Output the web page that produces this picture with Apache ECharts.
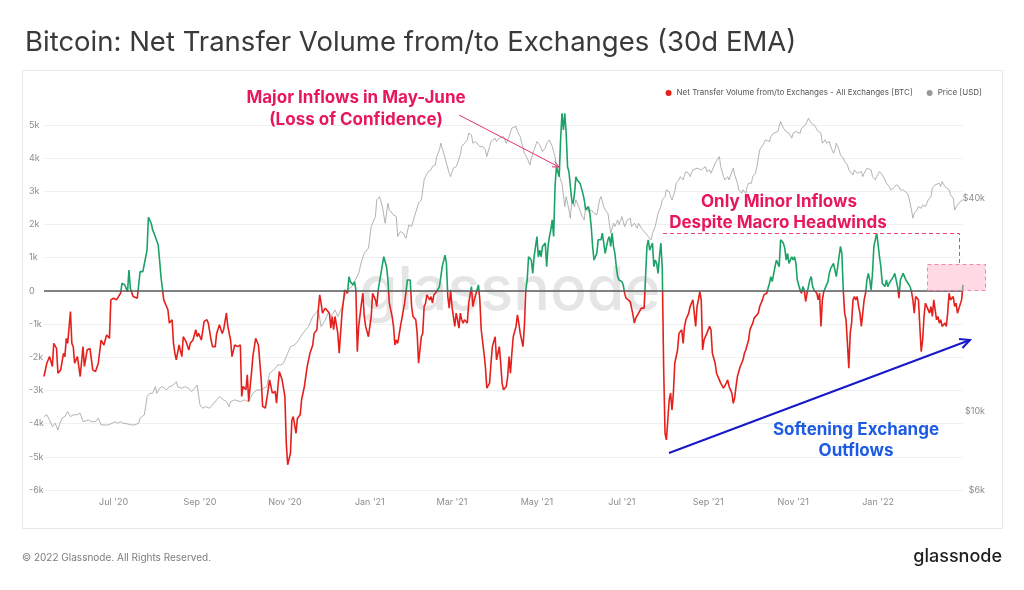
<!DOCTYPE html>
<html>
<head>
<meta charset="utf-8">
<title>Bitcoin: Net Transfer Volume from/to Exchanges (30d EMA)</title>
<script src="https://cdn.jsdelivr.net/npm/echarts@6/dist/echarts.min.js"></script>
<style>
html, body { margin: 0; padding: 0; background: #fff; }
#main { width: 1024px; height: 590px; }
</style>
</head>
<body>
<div id="main"></div>
<script>
// days counted from 2020-05-12
var flowDays = [0,2,4,6,7,9,10,12,14,15,16,17,19,20,21,22,24,26,28,29,31,33,35,37,39,41,43,45,47,48,50,52,55,56,58,60,61,62,64,67,68,69,71,72,74,75,77,78,79,80,82,83,84,86,88,89,90,92,93,94,95,97,99,100,102,104,105,107,109,110,111,113,115,117,118,120,121,123,124,126,128,129,131,132,134,
135,137,139,141,142,143,145,146,147,149,150,152,154,156,157,159,161,162,164,166,167,168,169,171,172,173,174,175,177,178,179,181,182,184,185,187,189,191,193,194,196,197,198,199,200,202,203,205,206,207,208,209,211,212,213,214,216,217,218,219,220,221,222,223,224,225,226,228,229,230,231,233,234,235,236,238,239,240,241,242,244,245,246,247,248,250,251,252,253,254,256,257,259,260,261,263,264,265,
267,268,269,271,272,273,274,275,277,278,279,280,281,282,284,285,286,288,289,290,291,292,293,295,296,297,298,299,300,301,302,304,305,306,307,308,309,311,312,313,314,316,317,318,320,321,322,324,325,327,328,329,330,332,333,334,335,336,337,339,340,341,342,344,345,346,347,348,350,351,352,354,355,356,357,358,360,361,362,363,364,365,366,367,368,370,371,372,373,374,375,376,377,378,379,380,381,382,383,385,386,387,388,389,391,392,393,394,395,397,
398,400,401,403,404,405,406,407,408,409,410,411,412,413,415,416,417,418,419,421,422,423,424,425,427,428,429,430,431,432,433,434,435,437,438,439,440,441,442,443,444,445,446,447,448,449,450,451,452,453,455,456,458,459,460,461,463,464,466,467,468,469,470,471,472,473,474,476,477,478,479,480,482,483,484,485,486,488,489,490,491,492,494,495,496,497,498,500,501,502,503,504,506,507,508,509,510,511,513,514,515,516,517,519,520,521,522,523,525,526,527,528,529,531,
532,533,534,535,537,538,539,540,541,543,544,545,546,547,548,549,550,551,552,553,555,556,557,558,559,560,561,563,564,565,567,568,569,570,571,572,573,574,575,576,577,578,579,580,581,582,583,584,585,586,587,588,589,590,591,592,593,594,595,596,597,598,599,600,601,602,604,605,606,607,608,610,611,612,613,614,615,616,617,618,619,620,622,623,624,625,626,628,629,630,631,632,633,635,636,637,638,639,641,642,643,644,645,647,648,649,650,651,653,654,655,656,657,659,660];
var flowValues = [-2580,-2180,-1980,-2280,-1580,-1730,-2480,-2380,-1880,-1980,-1430,-1580,-620,-1580,-1680,-2180,-1980,-2580,-1680,-2280,-1780,-1730,-2380,-2430,-2180,-1480,-1630,-1330,-1430,-270,-220,-270,-70,230,180,-20,630,80,-170,-220,-270,580,580,530,1230,2220,2040,1840,1740,1740,1390,930,430,-270,-470,-570,-970,-870,-1580,-1880,-2080,-1630,-1980,-1380,-1530,-1780,-1580,-1480,-1170,-1380,-1280,-1480,-920,-870,-970,-1480,-1680,-1680,-1280,-1020,-1280,-1170,-670,-1070,-1480,
-1980,-1630,-1680,-1630,-3180,-2880,-2980,-2530,-3330,-2480,-1980,-1430,-1630,-2680,-3480,-3530,-2980,-2680,-3080,-3030,-3380,-2880,-2430,-2680,-2630,-3180,-4590,-5240,-4890,-3890,-3790,-4290,-3840,-3730,-3280,-2880,-2280,-1880,-1630,-1280,-1170,-570,-120,-370,-670,-520,-570,-670,-1120,-770,-1170,-770,-1280,-1880,-1280,-670,30,80,-70,430,280,330,180,280,30,-1830,-1070,-370,-70,-770,-1070,-1380,-1430,-770,-70,-270,-470,30,-20,530,1030,980,730,330,-370,-770,-1070,-1630,-1480,-1580,-1070,-1120,-370,-420,330,330,-470,-770,
-870,-1280,-2180,-1380,-1280,-470,-370,-120,-270,-170,-370,-120,-170,-20,130,430,730,1080,830,-170,-520,30,-470,-1070,-670,-870,-1120,-670,-870,-970,-870,-970,-370,-370,130,-470,-270,30,180,-270,-1170,-1880,-2280,-2930,-2780,-2180,-1680,-1380,-2080,-1680,-2180,-2780,-2980,-2880,-2580,-1980,-2480,-1880,-1380,-1070,-720,-970,-1280,-1680,-1070,30,330,1030,930,530,1030,1640,1030,1230,1030,1340,1440,730,1340,1640,1840,2140,1640,3140,3740,3440,4550,5350,4850,5350,4750,3740,3590,3640,2740,2630,2940,3440,3340,3240,3240,2940,2740,2440,2540,2340,1940,1340,930,1130,
1540,1540,1740,1130,1340,1540,1640,1340,1740,1340,1130,730,430,330,280,180,-70,-220,-270,-320,-520,-720,-970,-820,-670,-670,-520,-520,-520,-520,1340,1540,1230,1440,730,930,830,530,1030,1440,730,-2280,-4290,-4490,-3890,-3280,-3080,-3590,-3080,-2180,-1780,-1280,-1170,-1580,-1070,-870,-670,-470,-270,-270,-1070,-470,-270,-20,-270,-1780,-1480,-1280,-1280,-1070,-1170,-1880,-2180,-2480,-2480,-2680,-2780,-2930,-2980,-2780,-2680,-2880,-3080,-3390,-3230,-2880,-2580,-2280,-2180,-2080,-1880,-1780,-1480,-1170,-1070,-970,-820,-770,-670,-470,-470,-270,-120,-70,-20,230,430,280,730,930,830,730,1540,1440,
1290,930,1130,830,1030,930,1030,830,330,30,-70,130,30,-320,-70,130,330,430,130,30,-70,-270,-70,-1070,-270,-20,30,280,530,680,830,630,430,730,1030,1340,1130,30,-670,-870,-1580,-2330,-1280,-970,-270,-170,-270,-170,-470,-670,-1070,-670,-270,-70,330,530,330,30,530,1340,1540,1740,1410,1030,730,230,130,330,130,230,180,430,530,480,130,-220,330,280,530,430,330,380,130,-20,-270,-670,-170,-270,-1070,-1830,-1480,-770,-370,-570,-670,-470,-770,-270,-870,-770,-970,-870,-1070,-970,-1070,-670,-70,-270,-170,-470,-370,-670,-720,-270,180];

var priceDays = [0,2,4,6,8,10,11,13,15,17,19,21,23,26,28,29,32,34,37,39,41,44,46,49,51,53,55,57,60,63,65,68,69,72,73,74,76,78,80,81,83,85,88,90,92,95,96,99,101,104,106,108,110,112,114,116,119,121,124,126,129,131,133,
134,137,141,144,147,150,153,156,160,162,165,168,170,172,175,177,180,183,185,188,190,193,195,197,199,202,204,206,209,211,214,216,218,221,223,226,228,230,233,235,238,239,241,243,245,247,248,251,253,254,256,258,260,262,264,266,
269,271,273,274,276,278,279,281,282,284,285,287,288,289,291,292,294,296,297,299,300,302,304,305,307,308,310,311,313,315,317,318,320,321,322,324,325,327,328,330,332,333,334,336,337,339,340,342,344,345,347,349,350,352,354,356,357,358,360,361,363,365,367,368,369,371,372,374,375,377,378,379,381,382,384,386,388,389,391,393,395,397,
399,400,402,403,405,406,407,409,410,412,413,415,417,419,421,422,424,426,427,429,431,433,434,436,437,439,440,441,443,444,446,447,449,450,451,453,454,456,457,459,460,461,463,464,466,467,469,470,472,473,475,476,478,479,481,482,483,485,486,488,489,491,492,494,495,496,498,499,501,502,504,505,506,508,509,511,512,514,515,517,518,519,521,522,524,525,527,528,529,531,
533,534,535,537,538,540,541,543,544,545,547,548,549,551,552,554,555,556,558,559,561,562,564,565,567,568,569,571,572,574,575,577,578,579,581,582,584,585,587,588,589,591,592,594,595,597,598,600,601,602,604,605,607,608,610,611,612,614,615,617,618,620,621,622,623,624,625,627,628,630,631,633,634,635,637,638,640,641,643,644,645,647,648,650,651,653,654,656,657,658,660];
var priceValues = [9670,9780,9460,9060,9260,8860,9160,9570,9670,9990,9670,9780,9780,9880,9360,9460,9460,9360,9360,9570,9160,9160,9160,9260,9360,9260,9360,9260,9220,9160,9160,9260,9570,9780,10320,11010,11250,11250,11750,11250,11620,11750,11500,11750,11800,12140,11750,11620,11750,11620,11380,11620,11880,10440,10210,10320,10210,10440,10780,11010,10780,10660,10320,
10660,10780,10660,10780,10660,11250,11500,11500,11750,12810,13100,13530,13530,13680,14600,15240,15410,15920,16450,16990,17360,18530,18930,19350,17360,18130,18930,18530,19350,18530,19770,21100,22040,22520,23270,24560,26500,27970,28900,33270,35500,39570,40430,37890,34000,38720,37080,35900,35500,31180,32210,31860,30840,33630,33270,35500,
38720,39570,45070,46050,47580,48100,49160,49690,52460,54780,57210,53600,51900,51330,47060,46050,48630,49160,50230,53030,55980,57210,58460,61040,60390,57210,57830,57210,55980,55980,54780,52460,55980,57830,58460,59100,57830,59100,58460,59740,57210,58460,59740,63100,62400,63800,61700,59740,55380,53600,51900,49690,51900,54780,57830,56590,55980,54190,55380,57210,58460,55980,52460,49160,48100,45070,44100,37890,40430,37080,35120,39140,37890,39570,37890,35900,34740,37890,36670,37080,36280,35900,
39570,40430,37890,37080,36280,34000,31860,34000,33270,34740,33630,35500,33270,34740,35120,33270,34000,32910,34000,32910,32210,31520,31180,30510,31860,33270,34740,36280,37890,39570,40430,42230,41770,40430,39570,41770,44100,45070,46050,45070,46550,47580,47060,46050,48100,47580,48630,49160,48100,48100,49160,47580,48100,47060,49160,50230,50780,52460,49160,46050,45070,46050,45070,47580,48630,46550,44100,42230,41320,42230,41320,43160,44100,44100,46050,47060,49160,54780,55380,57210,58460,59100,57830,59740,61040,61700,61700,63800,65900,63100,
61700,61040,61040,59100,61040,61700,61700,61040,63100,63800,64500,65200,67300,65200,64500,63800,62400,63100,61040,57210,58460,57210,57830,55980,53600,54780,57210,54780,53030,51900,50780,49690,48100,47580,46550,48100,47060,46550,47580,46050,47060,48630,49160,48100,46050,45070,46050,47580,47580,46550,45070,44100,43160,42230,42690,42230,43630,43160,42230,42230,41770,41320,40430,38720,37080,35120,36280,37080,37890,37480,38300,37890,38720,39570,40430,42690,43630,43160,44100,43160,44580,43160,42690,42230,40870,40000,37080,38300,37890,39140,39570];

var monthTicks = ['2020-07-01','2020-09-01','2020-11-01','2021-01-01','2021-03-01','2021-05-01','2021-07-01','2021-09-01','2021-11-01','2022-01-01'];
var priceTicks = [6000, 10000, 40000];
var monthNames = ['Jan','Feb','Mar','Apr','May','Jun','Jul','Aug','Sep','Oct','Nov','Dec'];

var DAY = 86400000;
var startTime = Date.UTC(2020, 4, 12);
var FONT = 'Inter, "Noto Sans", sans-serif';

function toSeries(days, values) {
	var out = [];
	for (var i = 0; i < days.length; i++) {
		out.push([startTime + days[i] * DAY, values[i]]);
	}
	return out;
}

// line + open arrow head
function arrow(x1, y1, x2, y2, color, w, head) {
	var a = Math.atan2(y2 - y1, x2 - x1);
	var p1 = [x2 - head * Math.cos(a - 0.45), y2 - head * Math.sin(a - 0.45)];
	var p2 = [x2 - head * Math.cos(a + 0.45), y2 - head * Math.sin(a + 0.45)];
	return [{
		type: 'line', z: 20,
		shape: { x1: x1, y1: y1, x2: x2, y2: y2 },
		style: { stroke: color, lineWidth: w }
	}, {
		type: 'polyline', z: 20,
		shape: { points: [p1, [x2, y2], p2] },
		style: { stroke: color, lineWidth: w, fill: null }
	}];
}

function txt(x, y, s, size, color, weight, align) {
	return {
		type: 'text', x: x, y: y, z: 20,
		style: {
			text: s, fill: color, fontSize: size, fontWeight: weight || 'normal',
			fontFamily: FONT, align: align || 'center', verticalAlign: 'middle'
		}
	};
}

var myChart = echarts.init(document.getElementById('main'), null, { renderer: 'canvas' });

var pink = '#e8175d';
var graphics = [
	{ type: 'rect', z: 0, shape: { x: 22.5, y: 70.5, width: 980, height: 458 }, style: { fill: null, stroke: '#e8e8e8', lineWidth: 1 } },
	{ type: 'text', x: 510, y: 292, z: 1, style: { text: 'glassnode', fill: 'rgba(160,160,160,0.28)', fontSize: 61, fontWeight: 500, fontFamily: FONT, align: 'center', verticalAlign: 'middle' } },
	txt(356, 98, 'Major Inflows in May-June', 17, pink, 'bold'),
	txt(356, 120, '(Loss of Confidence)', 17, pink, 'bold'),
	txt(779, 202, 'Only Minor Inflows', 17, pink, 'bold'),
	txt(778, 223, 'Despite Macro Headwinds', 17, pink, 'bold'),
	txt(856, 430, 'Softening Exchange', 17, '#1d5be3', 'bold'),
	txt(856, 451, 'Outflows', 17, '#1d5be3', 'bold'),
	{ type: 'polyline', z: 20, shape: { points: [[663, 233.5], [959.5, 233.5], [959.5, 264]] }, style: { stroke: '#f0407a', lineWidth: 1, lineDash: [4, 3], fill: null } },
	{ type: 'rect', z: 20, shape: { x: 927.5, y: 264.5, width: 58, height: 26 }, style: { fill: 'rgba(255,170,196,0.45)', stroke: '#f08aaa', lineWidth: 1, lineDash: [4, 3] } },
	txt(22, 558, '\u00a9 2022 Glassnode. All Rights Reserved.', 10, '#7c7c7c', 'normal', 'left'),
	txt(1002, 557, 'glassnode', 18, '#1e1e1e', 500, 'right')
].concat(arrow(459, 115, 559, 167, '#e3336d', 1, 7))
 .concat(arrow(669, 453, 970, 340, '#1717cc', 2, 11));

var option = {
	animation: false,
	backgroundColor: '#fff',
	title: {
		text: 'Bitcoin: Net Transfer Volume from/to Exchanges (30d EMA)',
		left: 20, top: 24,
		textStyle: { fontFamily: FONT, fontSize: 27.5, fontWeight: 'normal', color: '#3a3a3a' }
	},
	legend: {
		right: 37, top: 84,
		icon: 'circle', itemWidth: 6, itemHeight: 6, itemGap: 14,
		textStyle: { fontFamily: FONT, fontSize: 8, color: '#555' },
		data: ['Net Transfer Volume from/to Exchanges - All Exchanges [BTC]', 'Price [USD]']
	},
	grid: { left: 44, right: 61, top: 125, bottom: 100 },
	// green above zero, red below (finite bounds so the gradient has stops)
	visualMap: {
		show: false, seriesIndex: 0, dimension: 1,
		pieces: [{ gt: 0, lte: 100000, color: '#1ba266' }, { gt: -100000, lte: 0, color: '#e5201c' }]
	},
	// value axis in ms so the 2-month ticks can be placed exactly
	xAxis: {
		type: 'value',
		min: startTime, max: startTime + 660 * DAY,
		axisLine: { show: false }, axisTick: { show: false }, splitLine: { show: false },
		axisLabel: {
			customValues: monthTicks.map(function (s) { return Date.parse(s + 'T00:00:00Z'); }),
			fontFamily: FONT, fontSize: 9, color: '#8c8c8c', margin: 8,
			formatter: function (v) {
				var d = new Date(v);
				return monthNames[d.getUTCMonth()] + " '" + String(d.getUTCFullYear()).slice(2);
			}
		}
	},
	yAxis: [{
		type: 'value', min: -6000, max: 5000, interval: 1000,
		axisLine: { show: false }, axisTick: { show: false },
		splitLine: { lineStyle: { color: '#efefef', width: 1 } },
		axisLabel: {
			align: 'left', margin: 15, fontFamily: FONT, fontSize: 9, color: '#8c8c8c', padding: [0, 0, 8, 0],
			formatter: function (v) { return v === 0 ? '0' : (v / 1000) + 'k'; }
		}
	}, {
		type: 'log', logBase: 10, min: 6000, max: 64400,
		axisLine: { show: false }, axisTick: { show: false }, splitLine: { show: false },
		axisLabel: {
			customValues: priceTicks,
			align: 'right', margin: 22, fontFamily: FONT, fontSize: 9, color: '#8c8c8c', padding: [0, 0, 8, 0],
			formatter: function (v) { return '$' + Math.round(v / 1000) + 'k'; }
		}
	}],
	series: [{
		name: 'Net Transfer Volume from/to Exchanges - All Exchanges [BTC]',
		type: 'line', yAxisIndex: 0, z: 4,
		showSymbol: false, clip: false,
		itemStyle: { color: '#e5201c' },
		lineStyle: { width: 1.6 },
		data: toSeries(flowDays, flowValues),
		markLine: {
			silent: true, symbol: 'none', label: { show: false },
			lineStyle: { color: '#5a5a5a', width: 1.5, type: 'solid' },
			data: [{ yAxis: 0 }]
		}
	}, {
		name: 'Price [USD]',
		type: 'line', yAxisIndex: 1, z: 3,
		showSymbol: false, clip: false,
		itemStyle: { color: '#9a9a9a' },
		lineStyle: { width: 0.8, color: '#a0a0a0' },
		data: toSeries(priceDays, priceValues)
	}],
	graphic: graphics
};

myChart.setOption(option);
</script>
</body>
</html>
